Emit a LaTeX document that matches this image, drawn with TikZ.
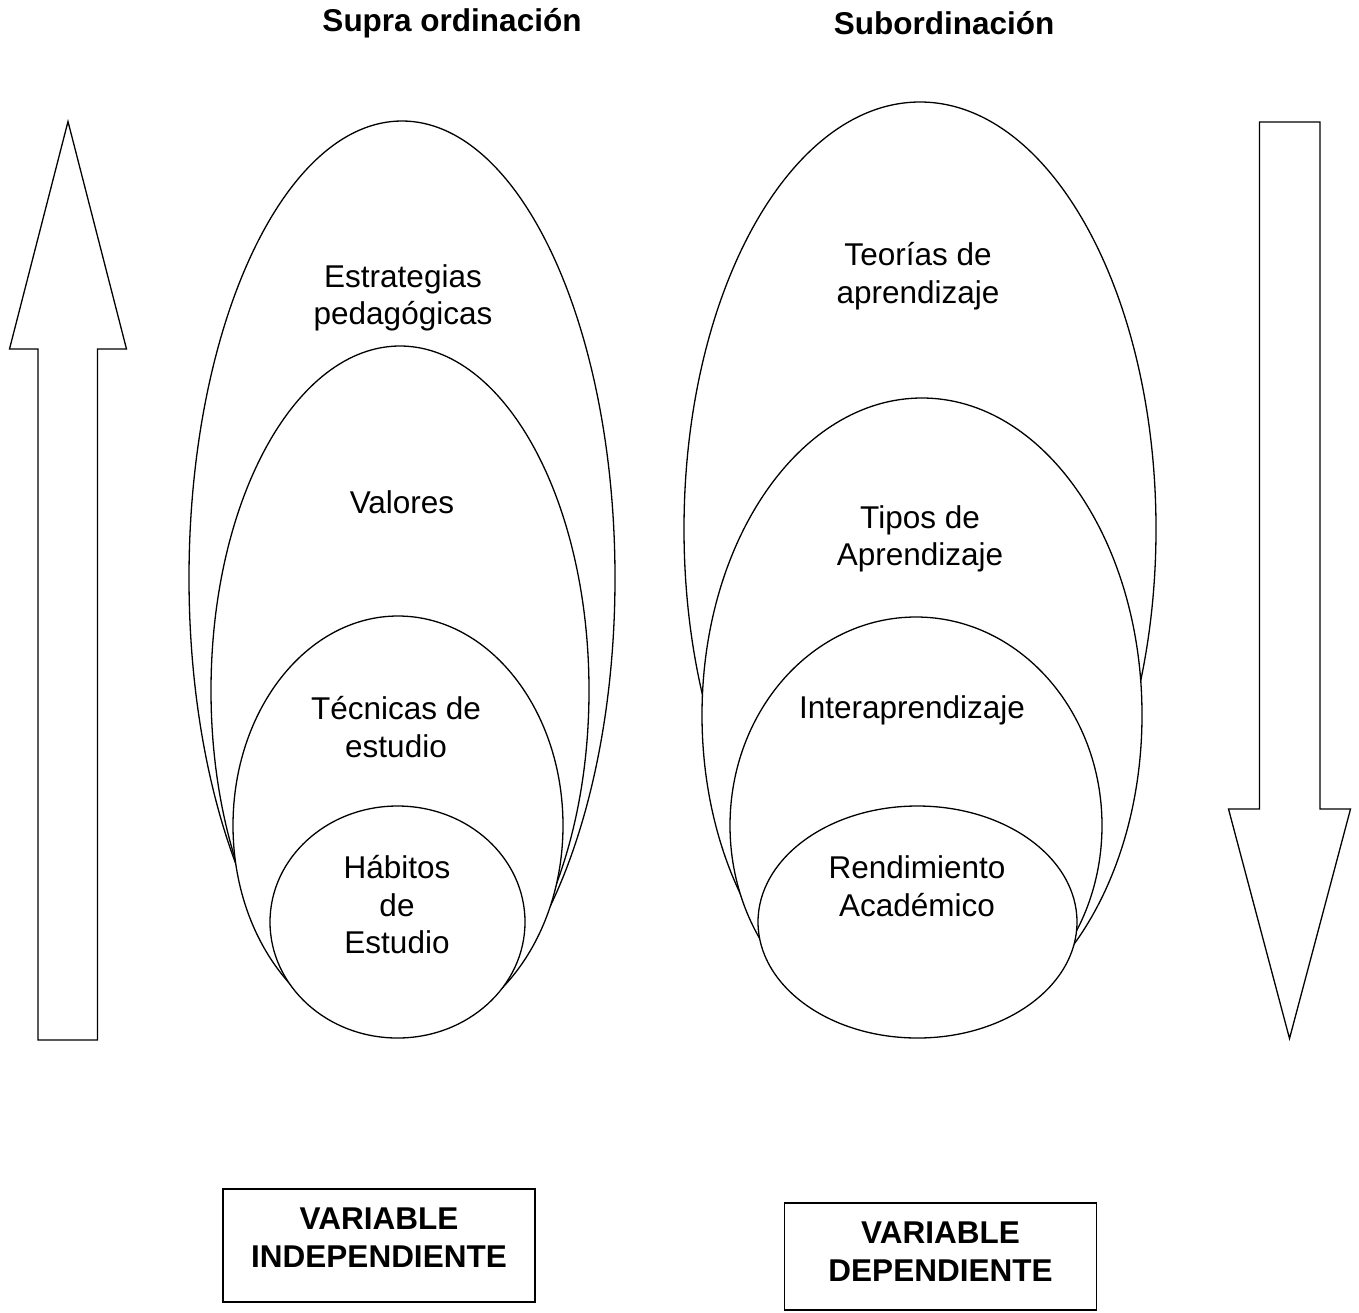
\documentclass[tikz,border=0pt]{standalone}
\usepackage{fontspec}
\setmainfont{Liberation Sans}
\usepackage{tikz}

\begin{document}
\begin{tikzpicture}[x=0.5pt,y=-0.5pt,line width=0.65pt,
	elli/.style={draw=black,fill=white},
	lbl/.style={align=center,font=\fontsize{15.75}{18.75}\selectfont},
	ttl/.style={font=\fontsize{15.75}{18.75}\selectfont\bfseries},
	varbox/.style={draw,minimum width=156pt},
	vartext/.style={align=center,font=\fontsize{15.75}{18.75}\selectfont\bfseries}]
	\useasboundingbox (0,0) rectangle (1359,1312);

	\node[ttl] (supra) at (452,23) {Supra ordinación};
	\node[ttl] (subord) at (944,23) {Subordinación};

	\draw (38,1040) -- (38,349) -- (9.5,349) -- (68,121.5)
	  -- (126.5,349) -- (97.5,349) -- (97.5,1040) -- cycle;
	\draw (1259.5,122) -- (1259.5,809) -- (1228.5,809) -- (1289.5,1038.5)
	  -- (1350.5,809) -- (1320,809) -- (1320,122) -- cycle;

	\foreach \cx/\cy/\rx/\ry in {402/578/213/457, 400/690.5/189/344.5, 398/825.5/165/209.5, 397.5/922/127.5/116} {
		\filldraw[elli] (\cx,\cy) ellipse[x radius=\rx, y radius=\ry];
	};
	\foreach \cx/\cy/\rx/\ry in {920/529/236/427, 922/715/220/317, 916/825.5/186/208.5, 917.5/922/159.5/116} {
		\filldraw[elli] (\cx,\cy) ellipse[x radius=\rx, y radius=\ry];
	};

	\node[lbl] (estrat) at (403,298) {Estrategias\\pedagógicas};
	\node[lbl] (valores) at (402,502) {Valores};
	\node[lbl] (tecnicas) at (396,727) {Técnicas de\\estudio};
	\node[lbl] (habitos) at (397,905) {Hábitos\\de\\Estudio};

	\node[lbl] (teorias) at (918,276) {Teorías de\\aprendizaje};
	\node[lbl] (tipos) at (920,539) {Tipos de\\Aprendizaje};
	\node[lbl] (interap) at (912,710) {Interaprendizaje};
	\node[lbl] (rendim) at (917,886) {Rendimiento\\Académico};

	\node[varbox,minimum height=56.5pt] (indep) at (379,1245.5) {};
	\node[vartext] (indeptxt) at (379,1237.5) {VARIABLE\\INDEPENDIENTE};
	\node[varbox,minimum height=53.5pt] (depen) at (940.5,1256.5) {};
	\node[vartext] (depentxt) at (940.5,1251.5) {VARIABLE\\DEPENDIENTE};
\end{tikzpicture}
\end{document}
